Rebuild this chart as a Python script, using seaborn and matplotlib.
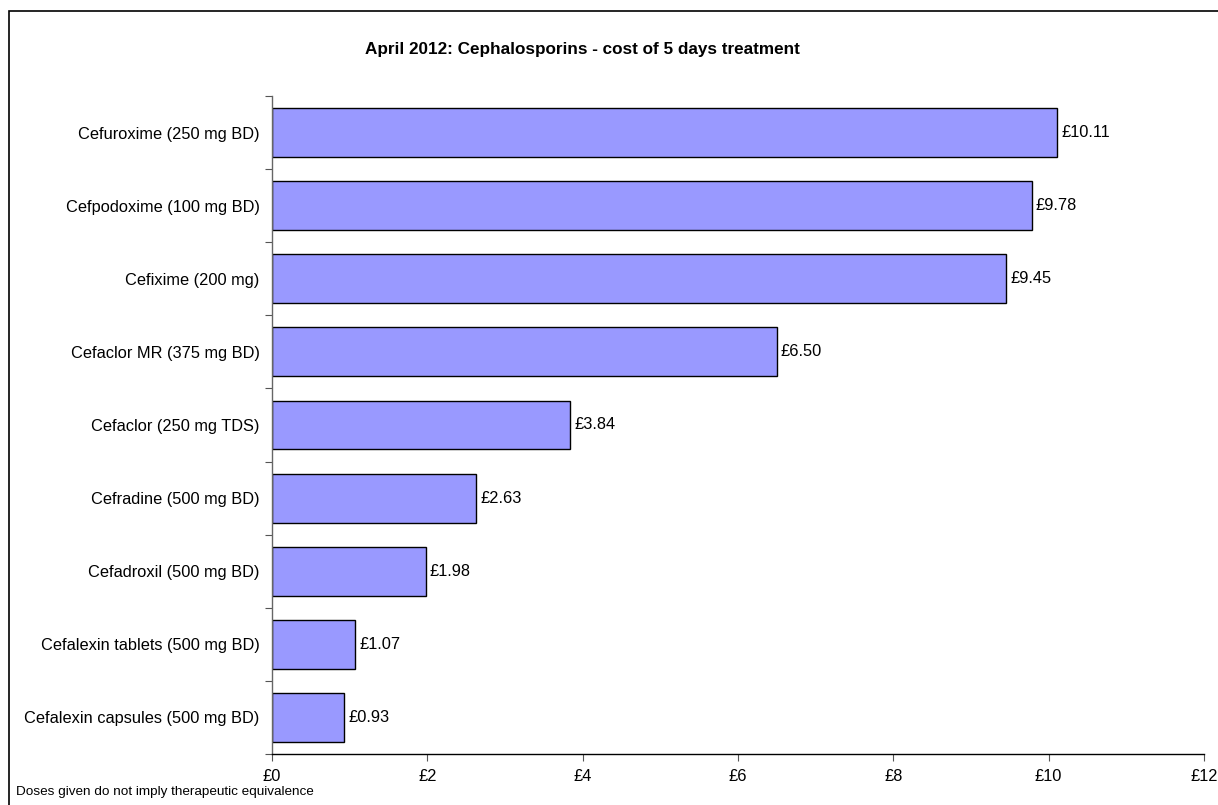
import matplotlib
matplotlib.use("Agg")
import matplotlib.pyplot as plt
import seaborn as sns
import numpy as np
from matplotlib.patches import Rectangle
from matplotlib.ticker import FixedLocator

drugs = [
    "Cefuroxime (250 mg BD)",
    "Cefpodoxime (100 mg BD)",
    "Cefixime (200 mg)",
    "Cefaclor MR (375 mg BD)",
    "Cefaclor (250 mg TDS)",
    "Cefradine (500 mg BD)",
    "Cefadroxil (500 mg BD)",
    "Cefalexin tablets (500 mg BD)",
    "Cefalexin capsules (500 mg BD)",
]
costs = [10.11, 9.78, 9.45, 6.50, 3.84, 2.63, 1.98, 1.07, 0.93]
x_ticks = [0, 2, 4, 6, 8, 10, 12]
x_tick_labels = ["£0", "£2", "£4", "£6", "£8", "£10", "£12"]

sns.set_theme(style="white")
plt.rcParams["font.family"] = ["Liberation Sans", "DejaVu Sans"]
plt.rcParams["text.color"] = "black"
plt.rcParams["xtick.color"] = "black"
plt.rcParams["ytick.color"] = "black"

label_size = 11.8

fig = plt.figure(figsize=(12.18, 8.05), dpi=100)
ax = fig.add_axes([0.2233, 0.0634, 0.7652, 0.8173])

sns.barplot(x=costs, y=drugs, orient="h", color="#9999FF", saturation=1,
            edgecolor="black", linewidth=1.0, width=0.67, ax=ax)

for i, v in enumerate(costs):
    ax.annotate(f"£{v:.2f}", xy=(v, i), xytext=(3, 0), textcoords="offset points",
                va="center", ha="left", fontsize=label_size, color="black")

ax.set_xlim(0, 12)
ax.set_ylim(len(drugs) - 0.5, -0.5)
ax.set_xticks(x_ticks)
ax.set_xticklabels(x_tick_labels, fontsize=label_size)
ax.tick_params(axis="x", which="major", direction="out", length=5, width=0.8,
               color="#555555", bottom=True, pad=6)
ax.tick_params(axis="y", which="major", length=0, pad=9, labelsize=label_size)
ax.yaxis.set_minor_locator(FixedLocator(np.arange(-0.5, len(drugs), 1.0)))
ax.tick_params(axis="y", which="minor", direction="out", length=5, width=0.8,
               color="#555555", left=True)
ax.set_xlabel("")
ax.set_ylabel("")
for s in ["top", "right"]:
    ax.spines[s].set_visible(False)
ax.spines["left"].set_color("#666666")
ax.spines["bottom"].set_color("black")
ax.spines["left"].set_linewidth(1.0)
ax.spines["bottom"].set_linewidth(1.0)

fig.text(0.478, 0.938, "April 2012: Cephalosporins - cost of 5 days treatment",
         ha="center", va="center", fontsize=12.3, fontweight="bold")
fig.text(0.013, 0.0125, "Doses given do not imply therapeutic equivalence",
         ha="left", va="baseline", fontsize=9.7)

# chart frame: its right and bottom edges run past the canvas
fig.patches.append(Rectangle((9 / 1218, -0.1), 1.2, 1.1 - 11 / 805,
                             transform=fig.transFigure, fill=False,
                             edgecolor="black", linewidth=1.2))

fig.savefig("out.png", dpi=100)
